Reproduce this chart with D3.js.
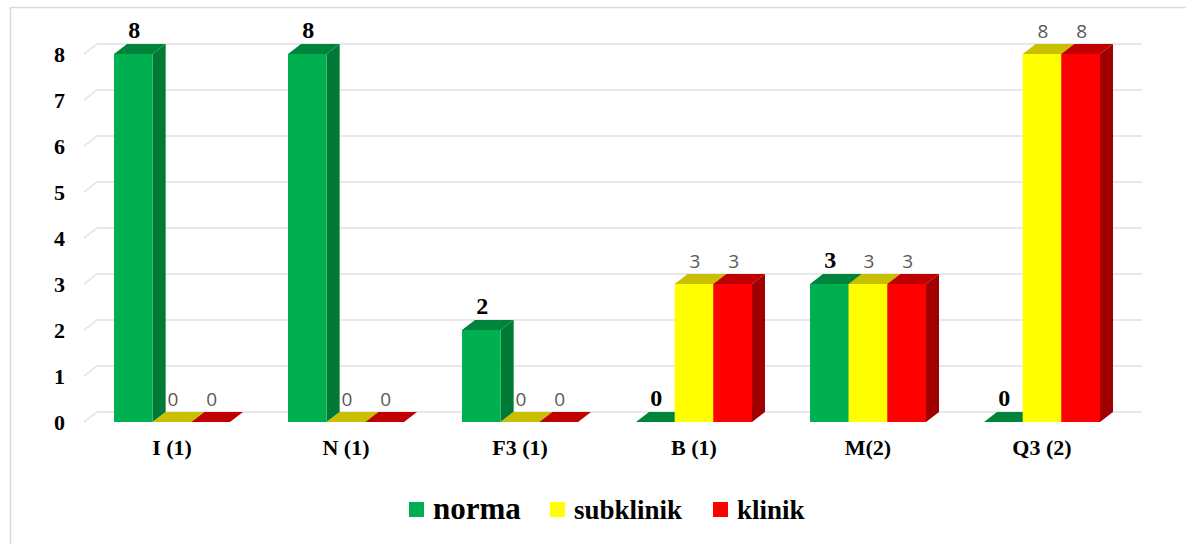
<!DOCTYPE html>
<meta charset="utf-8">
<style>
body { margin: 0; background: #fff; }
.serif-b { font-family: 'Liberation Serif', 'Times New Roman', 'DejaVu Serif', serif; font-weight: bold; fill: #000; }
.lbl-gray { font-family: 'Open Sans', sans-serif; fill: #595959; }
</style>
<body>
<div id="chart"></div>
<script src="https://d3js.org/d3.v7.min.js"></script>
<script>
// chart data
var categories = ["I (1)", "N (1)", "F3 (1)", "B (1)", "M(2)", "Q3 (2)"];
var seriesNames = ["norma", "subklinik", "klinik"];
var norma = [8, 8, 2, 0, 3, 0];
var subklinik = [0, 0, 0, 3, 3, 8];
var klinik = [0, 0, 0, 3, 3, 8];
var yTicks = [0, 1, 2, 3, 4, 5, 6, 7, 8];

var width = 1186,
    height = 544;

// colours: front, top, side
var colors = {
  norma: { front: "#00b050", top: "#00843c", side: "#007a35" },
  subklinik: { front: "#ffff00", top: "#c8c000", side: "#b5ad00" },
  klinik: { front: "#ff0000", top: "#c00000", side: "#a00000" }
};

// 3d depth offset
var dx = 13, dy = -10;

var svg = d3.select("#chart").append("svg")
    .attr("width", width)
    .attr("height", height);

// frame
svg.append("rect")
    .attr("x", 10.5).attr("y", 7.5)
    .attr("width", width).attr("height", height)
    .attr("fill", "none")
    .attr("stroke", "#d9d9d9")
    .attr("stroke-width", 1.5);

var x0 = d3.scaleBand()
    .domain(categories)
    .range([85, 1129])
    .paddingInner(1 / 3)
    .paddingOuter(1 / 6);

var x1 = d3.scaleBand()
    .domain(seriesNames)
    .range([0, x0.bandwidth()]);

var y = d3.scaleLinear()
    .domain([0, 8])
    .range([422, 54]);

// gridlines (floor + back wall)
svg.append("g")
    .selectAll("path")
    .data(yTicks)
  .enter().append("path")
    .attr("d", function(d) {
      return "M84," + y(d) + "L" + (84 + dx) + "," + (y(d) + dy) + "L" + (x0.range()[1] + dx) + "," + (y(d) + dy);
    })
    .attr("fill", "none")
    .attr("stroke", "#e8e8e8")
    .attr("stroke-width", 2);

// y axis labels
var yAxis = svg.append("g")
    .attr("transform", "translate(65,0)")
    .call(d3.axisLeft(y).tickValues(yTicks).tickSize(0).tickPadding(0).tickFormat(d3.format("d")));
yAxis.attr("font-family", null).attr("font-size", null);
yAxis.select(".domain").remove();
yAxis.selectAll("text")
    .attr("class", "serif-b")
    .attr("font-size", 22)
    .attr("dy", "0.36em");

// build rows
var rows = [];
categories.forEach(function(c, i) {
  var vals = { norma: norma[i], subklinik: subklinik[i], klinik: klinik[i] };
  seriesNames.forEach(function(s) {
    rows.push({ cat: c, series: s, value: vals[s] });
  });
});

var bars = svg.append("g");
rows.forEach(function(d) {
  var xl = x0(d.cat) + x1(d.series),
      w = x1.bandwidth(),
      yt = y(d.value),
      yb = y(0),
      c = colors[d.series];
  var g = bars.append("g");
  // side
  g.append("path")
      .attr("d", "M" + (xl + w) + "," + yt + "L" + (xl + w + dx) + "," + (yt + dy) + "L" + (xl + w + dx) + "," + (yb + dy) + "L" + (xl + w) + "," + yb + "Z")
      .attr("fill", c.side);
  // front
  if (d.value > 0) {
    g.append("rect")
        .attr("x", xl).attr("y", yt)
        .attr("width", w).attr("height", yb - yt)
        .attr("fill", c.front);
  }
  // top
  g.append("path")
      .attr("d", "M" + xl + "," + yt + "L" + (xl + w) + "," + yt + "L" + (xl + w + dx) + "," + (yt + dy) + "L" + (xl + dx) + "," + (yt + dy) + "Z")
      .attr("fill", c.top);
});

// value labels
svg.append("g")
    .selectAll("text")
    .data(rows)
  .enter().append("text")
    .attr("class", function(d) { return d.series === "norma" ? "serif-b" : "lbl-gray"; })
    .attr("x", function(d) { return x0(d.cat) + x1(d.series) + x1.bandwidth() / 2 + 1; })
    .attr("y", function(d) { return y(d.value) + dy - 6; })
    .attr("text-anchor", "middle")
    .attr("font-size", function(d) { return d.series === "norma" ? 24 : 19; })
    .text(function(d) { return d.value; });

// category labels
svg.append("g")
    .selectAll("text")
    .data(categories)
  .enter().append("text")
    .attr("class", "serif-b")
    .attr("x", function(d) { return x0(d) + x0.bandwidth() / 2; })
    .attr("y", 455)
    .attr("text-anchor", "middle")
    .attr("font-size", 22)
    .text(function(d) { return d; });

// legend
var legendItems = [
  { name: "norma", x: 409, size: 31 },
  { name: "subklinik", x: 550, size: 27 },
  { name: "klinik", x: 713, size: 27 }
];
var legend = svg.append("g");
legendItems.forEach(function(d) {
  legend.append("rect")
      .attr("x", d.x).attr("y", 502)
      .attr("width", 15).attr("height", 15)
      .attr("fill", colors[d.name].front);
  legend.append("text")
      .attr("class", "serif-b")
      .attr("x", d.x + 24).attr("y", 519)
      .attr("font-size", d.size)
      .text(d.name);
});
</script>
</body>
